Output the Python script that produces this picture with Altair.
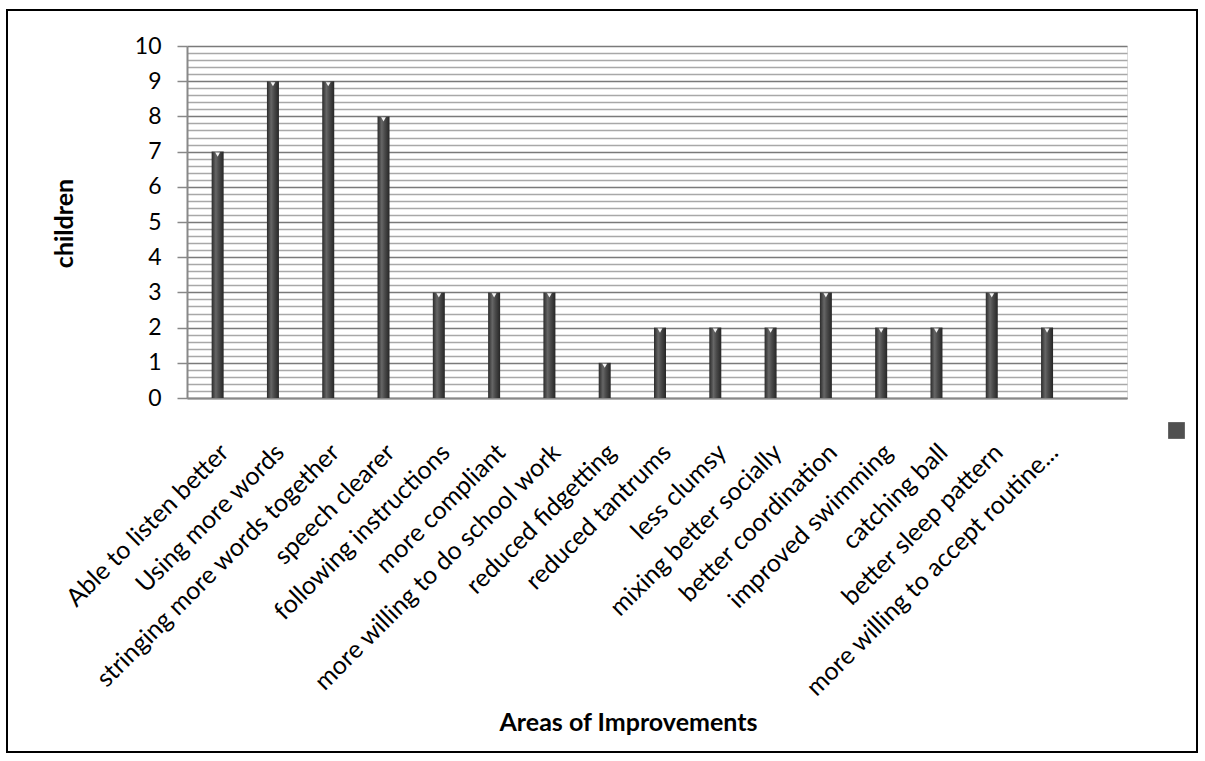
import altair as alt
import pandas as pd

categories = [
    "Able to listen better", "Using more words", "stringing more words together",
    "speech clearer", "following instructions", "more compliant",
    "more willing to do school work", "reduced fidgetting", "reduced tantrums",
    "less clumsy", "mixing better socially", "better coordination",
    "improved swimming", "catching ball", "better sleep pattern",
    "more willing to accept routine...",
]
children = [7, 9, 9, 8, 3, 3, 3, 1, 2, 2, 2, 3, 2, 2, 3, 2]
x_domain = categories + [" "]
grid_values = [round(i * 0.2, 1) for i in range(51)]

df = pd.DataFrame({"area": categories, "children": children})

FONT = "Lato"

x_enc = alt.X(
    "area:N", scale=alt.Scale(domain=x_domain, paddingInner=0, paddingOuter=0),
    sort=x_domain,
    axis=alt.Axis(
        title="Areas of Improvements", labelAngle=-45, labelAlign="right",
        labelBaseline="middle", labelPadding=50, labelOffset=10, ticks=False,
        labelFontSize=25, labelFont=FONT, labelColor="#000",
        domainColor="#888", domainWidth=2,
        titleFont=FONT, titleFontSize=25, titleFontWeight="bold", titleColor="#000",
        titleX=441, titleY=324, titleBaseline="middle", labelLimit=500, grid=False,
    ),
)
y_enc = alt.Y(
    "children:Q", scale=alt.Scale(domain=[0, 10], nice=False),
    axis=alt.Axis(
        title="children", values=grid_values, tickCount=60,
        labelExpr="datum.value % 1 === 0 ? format(datum.value, 'd') : ''",
        labelOverlap=False,
        labelFontSize=23, labelFont=FONT, labelColor="#000", labelPadding=16,
        tickSize=10, tickColor="#888", tickWidth=1.5,
        tickOpacity={"condition": {"test": "datum.value % 1 === 0", "value": 1}, "value": 0},
        domainColor="#888", domainWidth=2,
        grid=True, gridWidth=1.6,
        gridColor={"condition": {"test": "datum.value % 1 === 0", "value": "#7a7a7a"}, "value": "#a8a8a8"},
        titleFont=FONT, titleFontSize=25, titleFontWeight="bold", titleColor="#000",
        titleX=-123, titleY=177, titleAngle=-90, titleBaseline="middle",
    ),
)

grad = alt.Gradient(
    gradient="linear", x1=0, x2=1, y1=0, y2=0,
    stops=[
        alt.GradientStop(color="#2a2a2a", offset=0),
        alt.GradientStop(color="#666666", offset=0.35),
        alt.GradientStop(color="#4a4a4a", offset=0.6),
        alt.GradientStop(color="#262626", offset=1),
    ],
)

bars = alt.Chart(df).mark_bar(size=12, color=grad, xOffset=3).encode(x=x_enc, y=y_enc)

caps = alt.Chart(df).mark_point(
    shape="triangle-down", filled=True, color="white", size=22, opacity=0.95,
    yOffset=3, xOffset=3,
).encode(x=alt.X("area:N", sort=x_domain), y="children:Q")

legend_layer = alt.Chart(pd.DataFrame({"s": [" "]})).mark_point(
    opacity=0, size=0
).encode(
    fill=alt.Fill(
        "s:N", scale=alt.Scale(range=["#505050"]),
        legend=alt.Legend(
            orient="none", legendX=981, legendY=376, title=None,
            symbolType="square", symbolSize=280, symbolOpacity=1,
            symbolStrokeWidth=0, labelExpr="''", padding=0,
        ),
    )
)

border = alt.Chart(alt.Data(values=[{}])).mark_rect(
    fill=None, stroke="black", strokeWidth=2, clip=False
).encode(
    x=alt.value(-180), x2=alt.value(1010), y=alt.value(-36), y2=alt.value(706)
)

chart = alt.layer(bars, caps, legend_layer, border).properties(
    width=940, height=352,
    autosize=alt.AutoSizeParams(type="none"),
    padding={"left": 187, "top": 46, "right": 78, "bottom": 363},
).configure_view(stroke=None).configure(background="white")

chart.save("out.html", embed_options={"renderer": "svg", "actions": False})
